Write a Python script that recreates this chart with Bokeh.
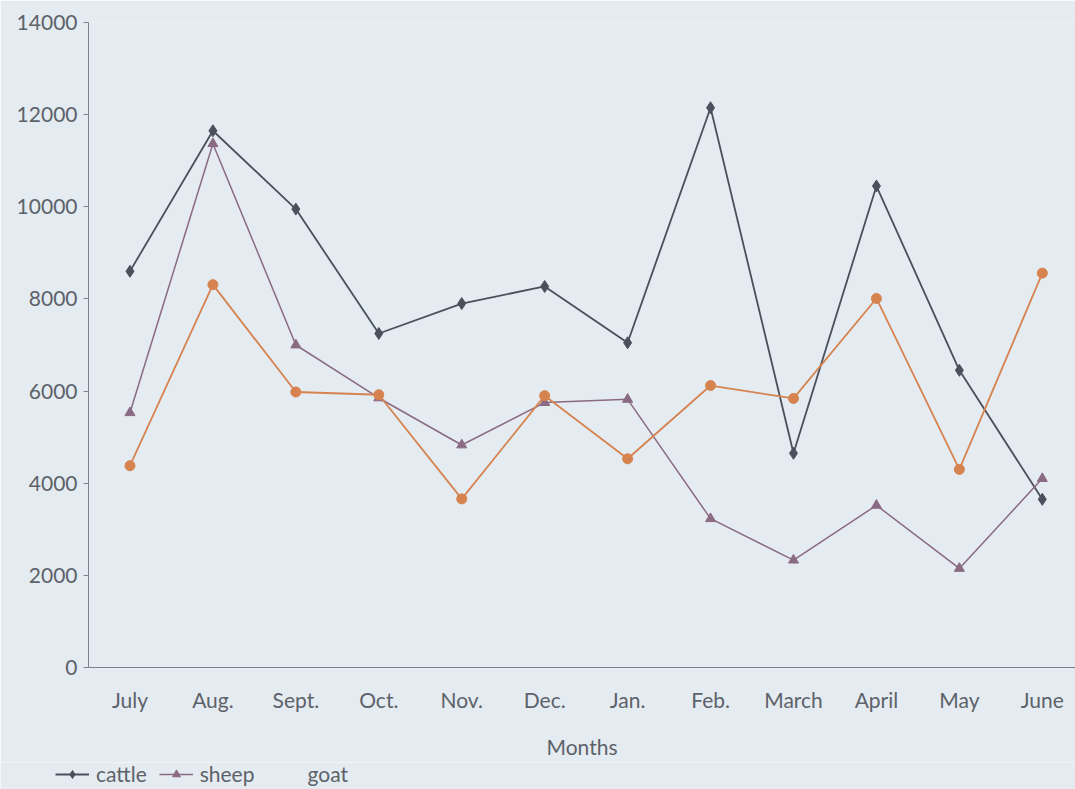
from bokeh.plotting import figure
from bokeh.models import Legend, LegendItem, FixedTicker, Range1d
from bokeh.embed import file_html
from bokeh.resources import INLINE

# Monthly livestock counts
months = ["July", "Aug.", "Sept.", "Oct.", "Nov.", "Dec.", "Jan.", "Feb.",
          "March", "April", "May", "June"]
cattle = [8600, 11650, 9950, 7250, 7900, 8270, 7050, 12150, 4650, 10450, 6450, 3650]
sheep = [5530, 11370, 7000, 5850, 4830, 5750, 5820, 3230, 2330, 3520, 2150, 4100]
goat = [4380, 8310, 5980, 5920, 3660, 5900, 4530, 6120, 5840, 8010, 4300, 8560]
y_ticks = [0, 2000, 4000, 6000, 8000, 10000, 12000, 14000]

x = list(range(len(months)))

BG = "#e4ebf1"
TEXT = "#5d6269"
FONT = "Lato"
CATTLE_C, SHEEP_C, GOAT_C = "#4a505c", "#8b6a83", "#d7834f"

p = figure(width=1075, height=762, output_backend="svg", toolbar_location=None,
           x_range=Range1d(-0.5, 11.4), y_range=Range1d(0, 14000),
           background_fill_color=BG, border_fill_color=BG,
           min_border_left=88, min_border_right=0, min_border_top=22,
           min_border_bottom=95)
p.outline_line_color = None
p.grid.visible = False

# Series
p.line(x, cattle, line_color=CATTLE_C, line_width=1.8)
p.scatter(x, cattle, marker="diamond", size=12, fill_color=CATTLE_C, line_color=CATTLE_C)
p.line(x, sheep, line_color=SHEEP_C, line_width=1.5)
p.scatter(x, sheep, marker="triangle", size=10, fill_color=SHEEP_C, line_color=SHEEP_C)
p.line(x, goat, line_color=GOAT_C, line_width=1.8)
p.scatter(x, goat, marker="circle", size=10, fill_color=GOAT_C, line_color=GOAT_C)

# Axes
p.yaxis.ticker = FixedTicker(ticks=y_ticks)
p.yaxis.minor_tick_line_color = None
p.yaxis.major_tick_out = 5
p.yaxis.major_tick_in = 0
p.yaxis.axis_line_color = "#7c828a"
p.yaxis.major_tick_line_color = "#7c828a"
p.yaxis.major_label_text_font = FONT
p.yaxis.major_label_text_font_size = "21px"
p.yaxis.major_label_text_color = TEXT
p.yaxis.major_label_standoff = 6

p.xaxis.ticker = FixedTicker(ticks=x)
p.xaxis.major_label_overrides = {i: m for i, m in enumerate(months)}
p.xaxis.minor_tick_line_color = None
p.xaxis.major_tick_line_color = None
p.xaxis.axis_line_color = "#7c828a"
p.xaxis.major_label_text_font = FONT
p.xaxis.major_label_text_font_size = "21px"
p.xaxis.major_label_text_color = TEXT
p.xaxis.major_label_standoff = 13
p.xaxis.axis_label = "Months"
p.xaxis.axis_label_text_font = FONT
p.xaxis.axis_label_text_font_style = "normal"
p.xaxis.axis_label_text_font_size = "21px"
p.xaxis.axis_label_text_color = TEXT
p.xaxis.axis_label_standoff = 19

# Legend strip beneath the chart; its series sit outside the strip's view,
# only their legend swatches show
leg = figure(width=1075, height=27, output_backend="svg", toolbar_location=None,
             x_range=Range1d(0, 1), y_range=Range1d(0, 1),
             x_axis_location=None, y_axis_location=None,
             background_fill_color=BG, border_fill_color=BG,
             min_border=0)
leg.outline_line_color = None
leg.grid.visible = False
lc = leg.line(x, cattle, line_color=CATTLE_C, line_width=1.8)
lcp = leg.scatter(x, cattle, marker="diamond", size=11, fill_color=CATTLE_C, line_color=CATTLE_C)
ls = leg.line(x, sheep, line_color=SHEEP_C, line_width=1.5)
lsp = leg.scatter(x, sheep, marker="triangle", size=9, fill_color=SHEEP_C, line_color=SHEEP_C)

legend = Legend(items=[
    LegendItem(label="cattle", renderers=[lc, lcp]),
    LegendItem(label="sheep", renderers=[ls, lsp]),
    LegendItem(label="goat", renderers=[]),
], orientation="horizontal", location=(55, 3))
legend.background_fill_alpha = 0
legend.border_line_color = None
legend.label_text_font = FONT
legend.label_text_font_size = "21px"
legend.label_text_color = TEXT
legend.glyph_width = 34
legend.glyph_height = 20
legend.label_height = 20
legend.label_standoff = 7
legend.spacing = 12
legend.padding = 0
legend.margin = 0
leg.add_layout(legend)

open("out.html", "w").write(file_html([p, leg], INLINE))
